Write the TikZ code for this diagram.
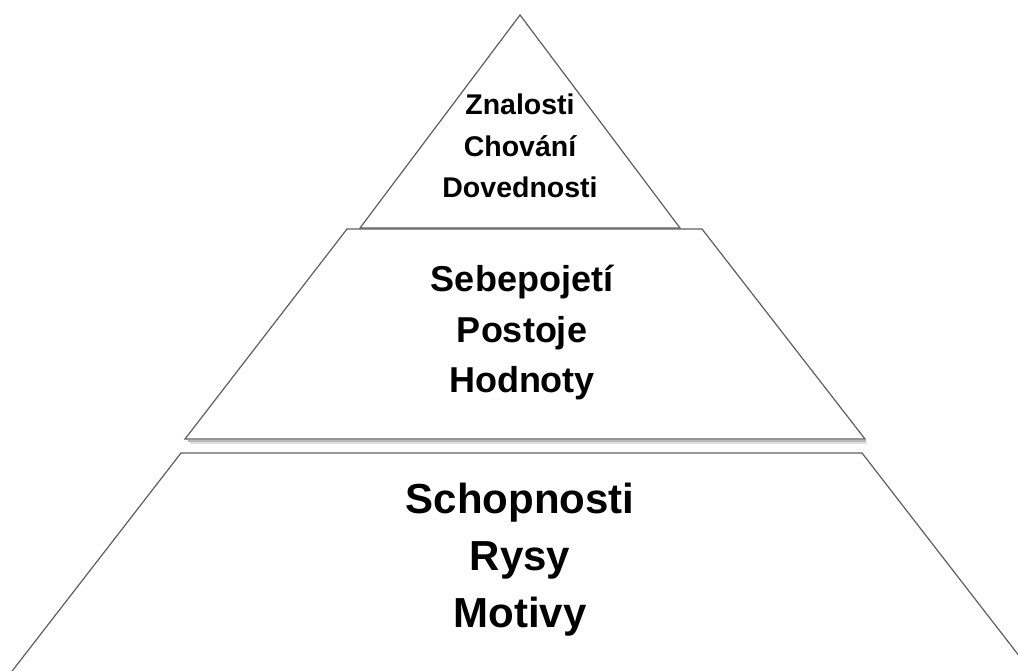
\documentclass[tikz,border=0pt]{standalone}
\usepackage{fontspec}
\setmainfont{Liberation Sans}
\usetikzlibrary{positioning}
\definecolor{edgegray}{HTML}{5E5E5E}

\begin{document}
\begin{tikzpicture}[x=1pt, y=-1pt, on grid,
   layer/.style = {draw=edgegray, line width=1.2pt, fill=white, line join=miter},
   word/.style = {inner sep=0pt, anchor=center},
   topword/.style = {word, font=\fontsize{28.5}{34}\selectfont\bfseries, text height=21pt, text depth=7pt},
   midword/.style = {word, font=\fontsize{36}{42}\selectfont\bfseries, text height=26pt, text depth=9pt},
   lowword/.style = {word, font=\fontsize{42}{49}\selectfont\bfseries, text height=31pt, text depth=10pt}]
   \useasboundingbox (0,0) rectangle (1018,671);
   \clip (0,0) rectangle (1018,671);
   % bottom layer
   \draw[layer] (181,453) -- (862,453) -- (1044,688) -- (-1,688) -- cycle;
   % shadow under the middle layer
   \draw[gray!55, line width=2pt] (188,440.5) -- (866,440.5);
   \draw[gray!25, line width=2pt] (190,442.5) -- (867,442.5);
   % middle layer
   \draw[layer] (347,229) -- (702,229) -- (865,439) -- (185,439) -- cycle;
   % top layer
   \draw[layer] (520,15) -- (680,228) -- (360,228) -- cycle;

   \node[topword] (znalosti) at (520,108) {Znalosti};
   \node[topword] (chovani) [below = 41.5pt of znalosti] {Chování};
   \node[topword] (dovednosti) [below = 41.5pt of chovani] {Dovednosti};
   \node[midword] (sebepojeti) at (522,283.5) {Sebepojetí};
   \node[midword] (postoje) [below = 50pt of sebepojeti] {Postoje};
   \node[midword] (hodnoty) [below = 50pt of postoje] {Hodnoty};
   \node[lowword] (schopnosti) at (520,502.5) {Schopnosti};
   \node[lowword] (rysy) [below = 57pt of schopnosti] {Rysy};
   \node[lowword] (motivy) [below = 57pt of rysy] {Motivy};
\end{tikzpicture}
\end{document}
